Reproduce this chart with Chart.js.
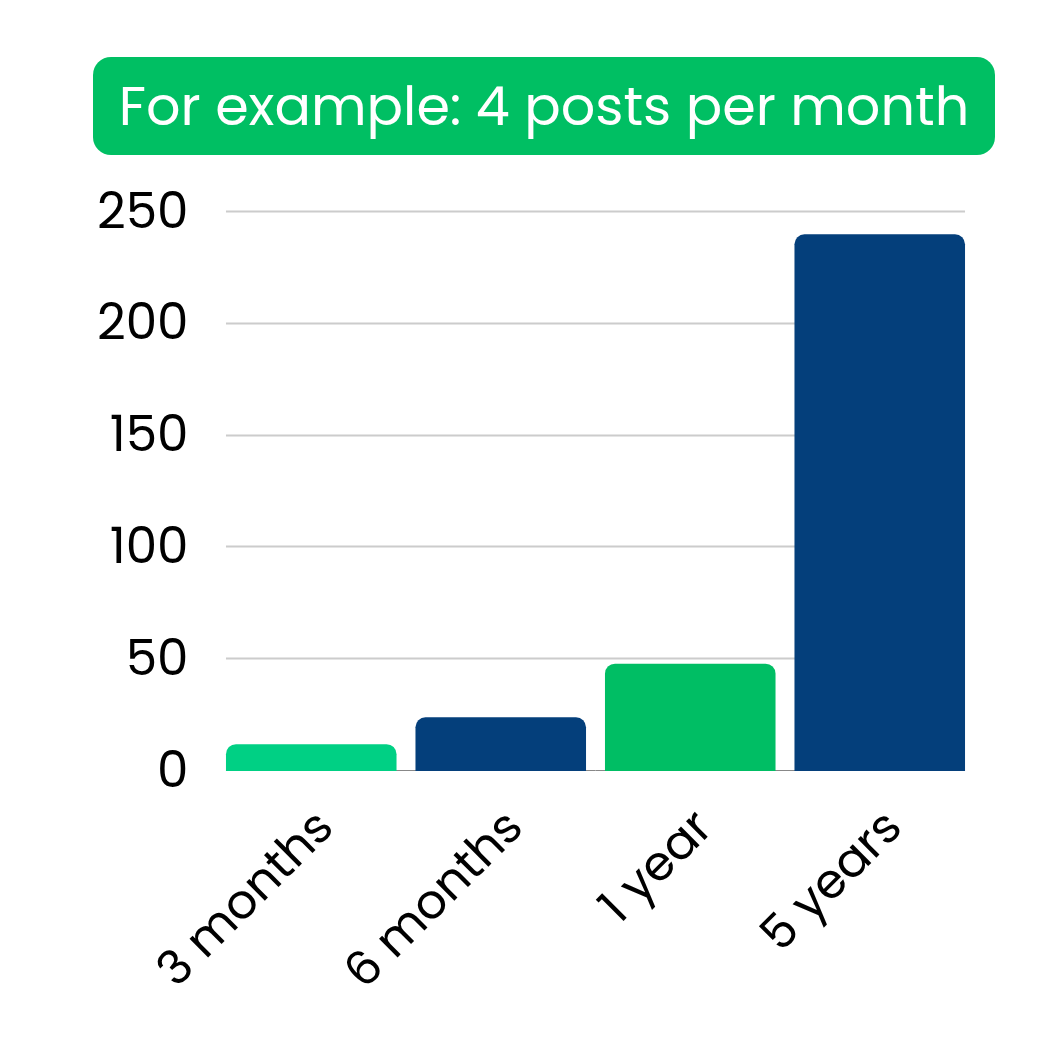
<!DOCTYPE html>
<html>
<head>
<meta charset="utf-8">
<script src="https://cdn.jsdelivr.net/npm/chart.js@4/dist/chart.umd.min.js"></script>
<style>
    html, body { margin: 0; padding: 0; background: #fff; }
    #wrap { position: relative; width: 1048px; height: 1051px; }
    #titulo {
        position: absolute; left: 93px; top: 57px; width: 902px; height: 98px;
        background: #00BF63; border-radius: 18px; color: #fff;
        font-family: Poppins, Inter, 'Noto Sans', sans-serif; font-size: 54px;
        line-height: 98px; text-align: center; white-space: nowrap;
    }
    canvas { position: absolute; left: 0; top: 0; }
</style>
</head>
<body>
<div id="wrap">
    <canvas id="grafico" width="1048" height="1051"></canvas>
    <div id="titulo">For example: 4 posts per month</div>
</div>
<script>
const categorias = ['3 months', '6 months', '1 year', '5 years'];
const valores = [12, 24, 48, 240];
const colores = ['#00D084', '#043F7B', '#00BE64', '#043F7B'];
const ticksY = [0, 50, 100, 150, 200, 250];

const fuente = "Poppins, Inter, 'Noto Sans', sans-serif";

// lineas de grilla solo entre el borde izquierdo de la primera barra y el derecho de la ultima
const grillaPlugin = {
    id: 'grilla',
    beforeDatasetsDraw(chart) {
        const ctx = chart.ctx;
        const barras = chart.getDatasetMeta(0).data;
        const x0 = barras[0].x - barras[0].width / 2;
        const x1 = barras[barras.length - 1].x + barras[barras.length - 1].width / 2;
        const y = chart.scales.y;
        ctx.save();
        ticksY.forEach(v => {
            const py = Math.round(y.getPixelForValue(v)) - 0.5;
            ctx.strokeStyle = v === 0 ? '#888888' : '#cccccc';
            ctx.lineWidth = v === 0 ? 1 : 2;
            ctx.beginPath();
            ctx.moveTo(x0, py);
            ctx.lineTo(x1, py);
            ctx.stroke();
        });
        ctx.restore();
    }
};

new Chart(document.getElementById('grafico'), {
    type: 'bar',
    data: {
        labels: categorias,
        datasets: [{
            data: valores,
            backgroundColor: colores,
            borderRadius: 10,
            borderSkipped: 'start',
            categoryPercentage: 1,
            barPercentage: 0.9
        }]
    },
    options: {
        responsive: false,
        animation: false,
        layout: { padding: { left: 0, right: 73.5, top: 212, bottom: 0 } },
        plugins: { legend: { display: false }, tooltip: { enabled: false } },
        scales: {
            x: {
                grid: { display: false },
                border: { display: false },
                ticks: {
                    color: '#000', font: { family: fuente, size: 48 },
                    minRotation: 45, maxRotation: 45, padding: 22, labelOffset: 16
                },
                afterFit: s => { s.height = 1051 - 771; }
            },
            y: {
                min: 0, max: 250,
                afterBuildTicks: s => { s.ticks = ticksY.map(v => ({ value: v })); },
                grid: { display: false },
                border: { display: false },
                ticks: { color: '#000', font: { family: fuente, size: 50 }, padding: 20, labelOffset: 3 },
                afterFit: s => { s.width = 216.5; }
            }
        }
    },
    plugins: [grillaPlugin]
});
</script>
</body>
</html>
